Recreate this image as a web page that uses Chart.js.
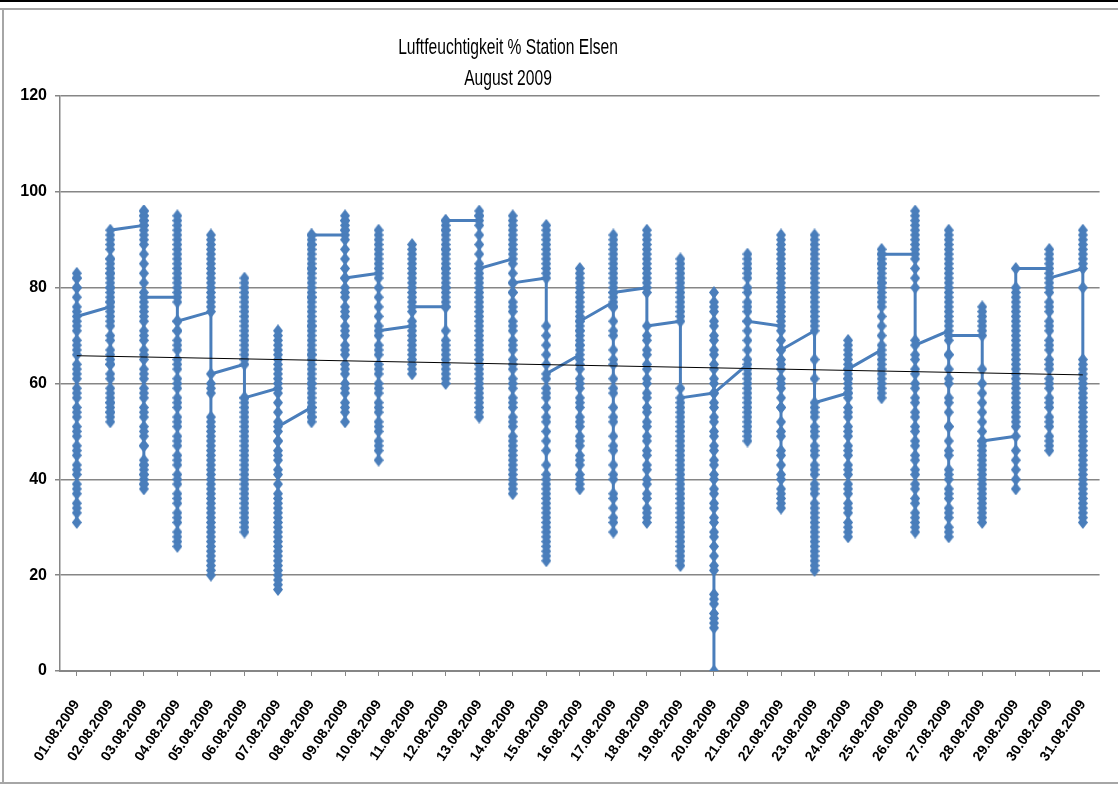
<!DOCTYPE html>
<html>
<head>
<meta charset="utf-8">
<title>Luftfeuchtigkeit % Station Elsen</title>
<script src="https://cdn.jsdelivr.net/npm/chart.js@4.4.1/dist/chart.umd.min.js"></script>
<style>
  body { margin:0; background:#fff; }
  .linie { position:absolute; }
  #myChart { position:absolute; left:0; top:0; }
  #titel {
    position:absolute; left:258px; top:31px; width:500px;
    text-align:center; font-family:'Liberation Sans', Arial, sans-serif;
    font-size:22px; line-height:31px; color:#000;
    transform:scaleX(0.71); transform-origin:250px 0;
  }
</style>
</head>
<body>
<div class="linie" style="left:0;top:0;width:1118px;height:2px;background:#000"></div>
<div class="linie" style="left:0;top:8px;width:1118px;height:2px;background:#a6a6a6"></div>
<div class="linie" style="left:2px;top:8px;width:2px;height:776px;background:#a6a6a6"></div>
<div class="linie" style="left:0;top:782px;width:1118px;height:2px;background:#a6a6a6"></div>
<canvas id="myChart" width="1118" height="787"></canvas>
<div id="titel">Luftfeuchtigkeit % Station Elsen<br>August 2009</div>

<script>
// Tage (Kategorien der x-Achse)
const tage = ['01.08.2009','02.08.2009','03.08.2009','04.08.2009','05.08.2009','06.08.2009','07.08.2009','08.08.2009',
  '09.08.2009','10.08.2009','11.08.2009','12.08.2009','13.08.2009','14.08.2009','15.08.2009','16.08.2009',
  '17.08.2009','18.08.2009','19.08.2009','20.08.2009','21.08.2009','22.08.2009','23.08.2009','24.08.2009',
  '25.08.2009','26.08.2009','27.08.2009','28.08.2009','29.08.2009','30.08.2009','31.08.2009']

const werte01 = [80,82,83,82,80,78,76,75,73,71,69,67,66,64,62,61,59,57,55,53,51,49,47,45,43,41,39,37,35,33,31,34,38,42,46,50,54,58,63,68,72,74]
const werte02 = [76,78,80,82,84,86,85,83,81,79,77,75,73,70,67,65,64,62,59,57,56,55,54,53,52,54,56,58,61,64,66,69,72,74,77,80,83,86,88,89,90,91,92]
const werte03 = [93,94,95,96,96,95,94,93,92,91,90,89,87,85,83,81,79,77,75,73,71,69,67,65,63,61,59,57,55,53,51,49,47,44,43,42,41,40,39,38,39,41,43,47,50,54,58,62,66,70,74,76,78]
const werte04 = [78,80,82,84,86,88,90,92,94,95,93,91,89,87,85,83,81,79,77,73,71,69,67,65,63,61,59,57,55,53,51,49,47,45,43,41,39,37,35,33,31,29,27,26,28,32,36,40,44,48,52,56,60,64,68,71,73]
const werte05 = [75,77,79,81,83,85,87,89,91,90,88,86,84,82,80,78,76,60,58,53,51,49,47,45,43,41,39,37,35,33,31,29,27,25,23,21,20,22,24,26,28,30,32,34,36,38,40,42,44,46,48,50,52,59,62]
const werte06 = [64,66,68,70,72,74,76,78,80,82,81,79,77,75,73,71,69,67,65,57,55,53,51,49,47,45,43,41,39,37,35,33,31,29,30,32,34,36,38,40,42,44,46,48,50,52,54,56,57]
const werte07 = [59,61,63,65,67,69,71,70,68,66,64,62,60,58,56,54,52,50,48,46,44,42,39,36,34,32,30,28,26,24,22,20,18,17,19,21,23,25,27,29,31,33,35,37,41,45,48,51]
const werte08 = [55,54,53,52,53,55,57,59,61,63,65,67,69,71,73,75,77,79,81,83,85,87,89,91,90,88,86,84,82,80,78,76,74,72,70,68,66,64,62,60,58,56,60,66,72,78,84,89,91]
const werte09 = [91,92,93,94,95,94,92,90,88,86,84,82,80,78,76,74,72,70,68,66,64,62,60,58,56,54,52,55,59,63,67,71,75,79,82]
const werte10 = [83,85,87,89,91,92,90,88,86,84,82,80,78,76,74,72,70,68,66,64,62,60,58,56,54,52,50,48,46,44,47,51,55,59,63,67,71]
const werte11 = [72,70,68,66,64,62,63,65,67,69,71,73,75,77,79,81,83,85,87,89,88,86,84,82,80,78,76]
const werte12 = [76,71,69,67,65,63,61,60,62,64,66,68,77,79,81,83,85,87,89,91,93,94,92,90,88,86,84,82,80,78,76,80,84,88,92,94]
const werte13 = [94,95,96,95,93,91,89,87,85,83,81,79,77,75,73,71,69,67,65,63,61,59,57,55,53,54,56,58,60,62,64,66,68,70,72,74,76,78,80,82,84]
const werte14 = [86,88,90,92,94,95,93,91,89,87,85,83,81,79,77,75,73,71,69,67,65,63,61,59,57,55,53,51,49,47,45,43,41,39,37,38,40,42,44,46,48,52,56,60,64,68,72,76,79,81]
const werte15 = [82,84,86,88,90,92,93,91,89,87,85,83,72,70,68,66,64,61,59,57,55,53,50,48,46,43,41,39,37,35,33,31,29,27,25,23,24,26,28,30,32,34,36,38,40,52,58,62]
const werte16 = [66,68,70,72,74,76,78,80,82,84,83,81,79,77,75,73,71,69,67,65,63,61,59,57,55,53,51,49,47,45,43,41,39,38,40,44,48,52,56,60,64,68,71,73]
const werte17 = [77,79,81,83,85,87,89,91,90,88,86,84,82,80,78,76,73,70,67,64,61,58,55,52,49,46,43,40,37,34,31,29,32,36,41,47,53,59,65,71,76,79]
const werte18 = [80,82,84,86,88,90,92,91,89,87,85,83,81,79,70,67,64,61,58,55,52,49,46,43,40,37,34,32,31,33,36,39,42,45,48,51,54,57,60,63,66,69,72]
const werte19 = [73,75,77,79,81,83,85,86,84,82,80,78,76,74,59,56,54,52,50,48,46,44,42,40,38,36,34,32,30,28,26,24,22,23,25,27,29,31,33,35,37,39,41,43,45,47,49,51,53,55,57]
const werte20 = [58,56,53,50,47,44,41,38,35,32,29,26,22,16,14,12,10,9,0,11,15,21,24,28,31,34,37,40,43,46,49,52,55,60,63,66,69,72,75,77,79,76,73,70,67,64,61,58]
const werte21 = [64,62,60,58,56,54,52,50,48,49,51,53,55,57,59,61,63,65,67,69,71,73,75,77,79,82,84,86,87,85,83,80,76,73]
const werte22 = [72,74,76,78,80,82,84,86,88,90,91,89,87,85,83,81,79,77,75,73,71,69,67,65,63,61,59,57,55,52,49,46,43,40,38,36,35,34,37,41,45,50,55,60,64,67]
const werte23 = [71,73,75,77,79,81,83,85,87,89,91,90,88,86,84,82,80,78,76,74,72,65,61,55,53,51,49,47,45,43,41,39,37,35,33,31,29,27,25,23,21,22,24,26,28,30,32,34,38,42,46,50,54,56]
const werte24 = [58,60,62,64,66,68,69,67,65,63,61,59,57,55,53,51,49,47,45,43,41,39,37,35,33,31,29,28,30,34,38,42,46,50,54,58,61,63]
const werte25 = [67,65,63,61,59,57,58,60,62,64,66,68,70,72,74,76,78,80,82,84,86,88,87,85,83,81,79,77,81,85,87]
const werte26 = [87,89,91,93,95,96,94,92,90,88,86,84,82,80,69,66,63,60,57,54,51,48,45,42,39,36,33,31,29,30,32,35,38,41,44,47,50,53,56,59,62,65,68]
const werte27 = [71,73,75,77,79,81,83,85,87,89,91,92,90,88,86,84,82,80,78,76,74,72,69,66,63,60,57,54,51,48,45,42,40,38,36,34,32,30,28,29,33,37,41,46,51,56,61,66,70]
const werte28 = [70,72,74,76,75,73,71,63,60,58,56,54,52,50,48,46,44,42,40,38,36,34,32,31,33,35,37,39,41,43,45,47,48]
const werte29 = [49,46,42,38,40,44,51,53,55,57,59,61,63,65,67,69,71,73,75,77,79,80,78,76,74,72,70,68,66,64,62,60,58,56,54,52,84]
const werte30 = [84,86,88,87,85,83,81,79,77,75,73,71,69,67,65,63,61,59,57,55,53,51,49,47,46,48,52,56,60,64,68,72,76,80,82]
const werte31 = [84,86,88,90,92,91,89,87,85,80,65,63,61,59,57,55,53,51,49,47,45,43,41,39,37,35,33,31,32,34,36,38,40,42,44,46,48,50,52,54,56,58,60,62,64]

const tageswerte = [werte01,werte02,werte03,werte04,werte05,werte06,werte07,werte08,werte09,werte10,
  werte11,werte12,werte13,werte14,werte15,werte16,werte17,werte18,werte19,werte20,
  werte21,werte22,werte23,werte24,werte25,werte26,werte27,werte28,werte29,werte30,werte31]

// lineare Trendlinie: Anfang und Ende
const trend = [65.8, 61.8]

// alle Punkte eines Tages liegen auf der gleichen Kategorie
const punkte = []
tageswerte.forEach((werte, i) => {
  werte.forEach(v => punkte.push({ x: tage[i], y: v }))
})

// Raute als Marker (etwas hoeher als breit, wie im Original)
const raute = document.createElement('canvas')
raute.width = 10
raute.height = 13
const rc = raute.getContext('2d')
rc.fillStyle = '#4a7ebb'
rc.beginPath()
rc.moveTo(5, 0)
rc.lineTo(10, 6.5)
rc.lineTo(5, 13)
rc.lineTo(0, 6.5)
rc.closePath()
rc.fill()

const schmal = "'Liberation Sans Narrow', 'Liberation Sans', Arial, sans-serif"
const grau = '#868686'

const ctx = document.getElementById('myChart')
const mychart = new Chart(ctx, {
  type: 'line',
  data: {
    labels: tage,
    datasets: [{
      label: 'Linear',
      data: [{ x: tage[0], y: trend[0] }, { x: tage[tage.length - 1], y: trend[1] }],
      borderColor: '#000',
      borderWidth: 1,
      pointRadius: 0,
      order: 0
    }, {
      label: 'Luftfeuchtigkeit',
      data: punkte,
      borderColor: '#4a7ebb',
      backgroundColor: '#4a7ebb',
      borderWidth: 3,
      pointStyle: raute,
      pointRadius: 5,
      order: 1
    }]
  },
  options: {
    responsive: false,
    animation: false,
    events: [],
    layout: { padding: { top: 96, right: 15, left: 0, bottom: 0 } },
    plugins: {
      legend: { display: false },
      tooltip: { enabled: false },
      title: { display: false }
    },
    scales: {
      x: {
        type: 'category',
        offset: true,
        grid: { drawOnChartArea: false, drawTicks: true, tickLength: 5, color: grau },
        border: { color: grau, width: 2 },
        ticks: {
          autoSkip: false, minRotation: 56, maxRotation: 56, padding: 21,
          color: '#000', font: { family: "'Liberation Sans', Arial, sans-serif", size: 14, weight: 'bold' }
        },
        afterFit: s => { s.height = 116 }
      },
      y: {
        min: 0,
        max: 120,
        grid: { color: grau, lineWidth: 1.5, tickLength: 5 },
        border: { color: grau, width: 1.5 },
        ticks: {
          stepSize: 20, padding: 8,
          color: '#000', font: { family: schmal, size: 16, weight: 'bold' }
        },
        afterFit: s => { s.width = 60 }
      }
    }
  }
})
</script>
</body>
</html>
